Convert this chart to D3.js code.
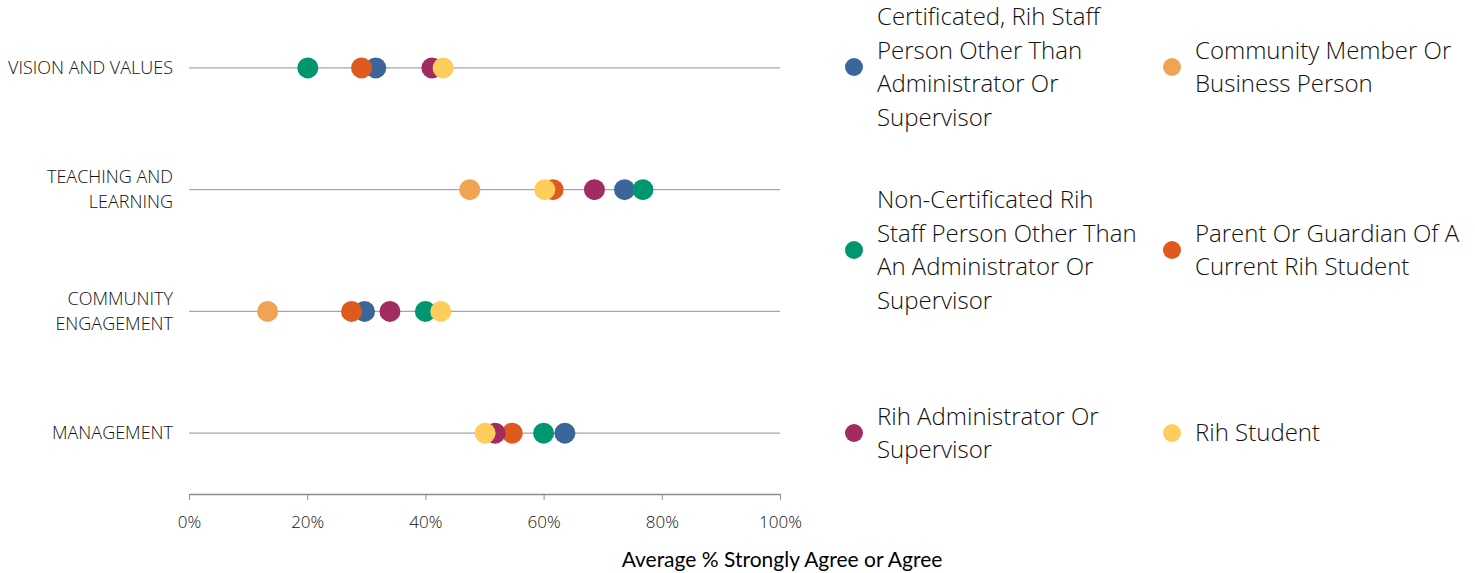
<!DOCTYPE html>
<html>
<head>
<meta charset="utf-8">
<script src="https://cdn.jsdelivr.net/npm/d3@7"></script>
<style>
  body { margin: 0; background: #fff; }
  text { font-family: "Open Sans", Lato, sans-serif; fill: #111; }
</style>
</head>
<body>
<div id="chart"></div>
<script>
// categories (top to bottom)
var categories = ["VISION AND VALUES", "TEACHING AND\nLEARNING", "COMMUNITY\nENGAGEMENT", "MANAGEMENT"];

// series, in legend order
var seriesNames = [
    "Certificated, Rih Staff\nPerson Other Than\nAdministrator Or\nSupervisor",
    "Community Member Or\nBusiness Person",
    "Non-Certificated Rih\nStaff Person Other Than\nAn Administrator Or\nSupervisor",
    "Parent Or Guardian Of A\nCurrent Rih Student",
    "Rih Administrator Or\nSupervisor",
    "Rih Student"
];
var seriesColors = ["#3a6699", "#f0a453", "#009670", "#de5a1e", "#a02c61", "#ffcd5c"];

// values per series, one per category (null = no point)
var certificated    = [0.316, 0.737, 0.297, 0.636];
var communityMember = [null,  0.475, 0.133, null];
var nonCertificated = [0.201, 0.768, 0.400, 0.600];
var parent          = [0.292, 0.616, 0.275, 0.547];
var administrator   = [0.411, 0.686, 0.340, 0.518];
var student         = [0.430, 0.602, 0.426, 0.501];
var seriesValues = [certificated, communityMember, nonCertificated, parent, administrator, student];

var xTicks = [0, 0.2, 0.4, 0.6, 0.8, 1.0];
var xTitle = "Average % Strongly Agree or Agree";

var width = 1475, height = 573;
var margin = {left: 189, right: 695, top: 7, bottom: 79};

var svg = d3.select("#chart").append("svg")
    .attr("width", width)
    .attr("height", height);

// Set the ranges
var xScale = d3.scaleLinear().domain([0, 1]).range([margin.left, width - margin.right]);
var yScale = d3.scaleBand().domain(categories).range([margin.top, height - margin.bottom]);
var yMid = c => yScale(c) + yScale.bandwidth() / 2;

// category lines
svg.append("g").selectAll("line")
    .data(categories)
    .enter().append("line")
    .attr("x1", xScale(0))
    .attr("x2", xScale(1))
    .attr("y1", d => yMid(d))
    .attr("y2", d => yMid(d))
    .attr("stroke", "#a6a6a6")
    .attr("stroke-width", 1.2);

// category labels
var catLabels = svg.append("g").selectAll("text")
    .data(categories)
    .enter().append("text")
    .attr("text-anchor", "end")
    .style("font-size", "18px")
    .style("font-weight", 300)
    .attr("transform", d => "translate(173," + yMid(d) + ")");
catLabels.each(function(d) {
    var lines = d.split("\n");
    var t = d3.select(this);
    lines.forEach((l, i) => {
        t.append("tspan")
            .attr("x", 0)
            .attr("y", (i - (lines.length - 1) / 2) * 25)
            .attr("dy", "0.35em")
            .text(l);
    });
});

// X axis
var xAxis = d3.axisBottom(xScale)
    .tickValues(xTicks)
    .tickFormat(d3.format(".0%"))
    .tickSize(6)
    .tickSizeOuter(0);
var axisG = svg.append("g")
    .attr("transform", "translate(0," + (height - margin.bottom) + ")")
    .call(xAxis);
axisG.select(".domain").attr("stroke", "#8c8c8c").attr("stroke-width", 1.5);
axisG.selectAll(".tick line").attr("stroke", "#8c8c8c");
axisG.selectAll(".tick text")
    .attr("y", 22)
    .style("font-size", "17px")
    .style("font-weight", 300)
    .style("fill", "#111")
    .attr("font-family", null);

// axis title
svg.append("text")
    .attr("x", 782)
    .attr("y", 560)
    .attr("dy", "0.35em")
    .attr("text-anchor", "middle")
    .style("font-family", "Lato, sans-serif")
    .style("font-size", "21px")
    .style("fill", "#000")
    .text(xTitle);

// dots, series in legend order
seriesValues.forEach((vals, s) => {
    svg.append("g").selectAll("circle")
        .data(categories.map((c, i) => ({c: c, v: vals[i]})).filter(d => d.v != null))
        .enter().append("circle")
        .attr("cx", d => xScale(d.v))
        .attr("cy", d => yMid(d.c))
        .attr("r", 10.5)
        .attr("fill", seriesColors[s]);
});

// legend, 2 columns
var legX = [854, 1172];
var legY = [67, 250, 433];
var lineH = 33.5;
var legend = svg.append("g").selectAll("g")
    .data(seriesNames)
    .enter().append("g")
    .attr("transform", (d, i) => "translate(" + legX[i % 2] + "," + legY[Math.floor(i / 2)] + ")");
legend.append("circle")
    .attr("r", 9)
    .attr("fill", (d, i) => seriesColors[i]);
legend.append("text")
    .style("font-size", "24px")
    .style("font-weight", 300)
    .each(function(d) {
        var lines = d.split("\n");
        var t = d3.select(this);
        lines.forEach((l, i) => {
            t.append("tspan")
                .attr("x", 23)
                .attr("y", (i - (lines.length - 1) / 2) * lineH)
                .attr("dy", "0.35em")
                .text(l);
        });
    });
</script>
</body>
</html>
